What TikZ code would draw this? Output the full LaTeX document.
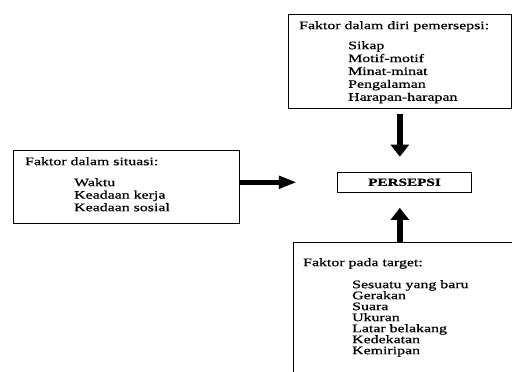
\documentclass[tikz,border=0pt]{standalone}
\usepackage{fontspec}
\setmainfont{Liberation Serif}[FakeStretch=1.38, FakeBold=0.8]
\usetikzlibrary{arrows.meta, positioning}

\tikzset{
 kotak/.style={draw, line width=1.2pt, rectangle, inner sep=0pt, anchor=north west},
 isi/.style={anchor=north west, align=left, inner sep=0pt},
 panahv/.style={line width=6pt, -{Triangle[width=18pt,length=12pt]}},
 panahh/.style={line width=4.5pt, -{Triangle[width=12pt,length=18pt]}},
}
\newcommand*{\ind}{\hspace*{49pt}}
\newcommand*{\fsz}[1]{\fontsize{11.5}{#1}\selectfont}

\begin{document}
\begin{tikzpicture}[x=1pt, y=-1pt]
 \useasboundingbox (0,0) rectangle (512,372);
 \clip (0,0) rectangle (512,372);
 % kotak
 \node[kotak, minimum width=222.5pt, minimum height=94pt] (diri) at (288,14) {};
 \node[kotak, minimum width=226pt, minimum height=73pt] (situasi) at (13,150) {};
 \node[kotak, minimum width=134pt, minimum height=20pt, font=\fontsize{11}{13}\selectfont\bfseries, anchor=center] (persepsi) at (404.5,182.3) {PERSEPSI};
 \node[kotak, minimum width=240pt, minimum height=160pt] (target) at (293,242) {};
 % isi kotak
 \node[isi, font=\fsz{12.9}] (diri-isi) at (299,21) {Faktor dalam diri pemersepsi:\\[7.1pt]
  \ind Sikap\\ \ind Motif-motif\\ \ind Minat-minat\\ \ind Pengalaman\\ \ind Harapan-harapan};
 \node[isi, font=\fsz{12.5}] (situasi-isi) at (25,157) {Faktor dalam situasi:\\[8.5pt]
  \ind Waktu\\ \ind Keadaan kerja\\ \ind Keadaan sosial};
 \node[isi, font=\fsz{11}] (target-isi) at (303,258) {Faktor pada target:\\[11pt]
  \ind Sesuatu yang baru\\ \ind Gerakan\\ \ind Suara\\ \ind Ukuran\\ \ind Latar belakang\\ \ind Kedekatan\\ \ind Kemiripan};
 % panah
 \draw[panahv, shorten <=5pt, shorten >=15pt] (diri.south) -- (diri.south |- persepsi.north);
 \draw[panahv, shorten >=15pt] (target.north -| diri.south) -- (diri.south |- persepsi.south);
 \draw[panahh, shorten >=40pt] (situasi.east |- persepsi.west) -- (persepsi.west);
\end{tikzpicture}
\end{document}
